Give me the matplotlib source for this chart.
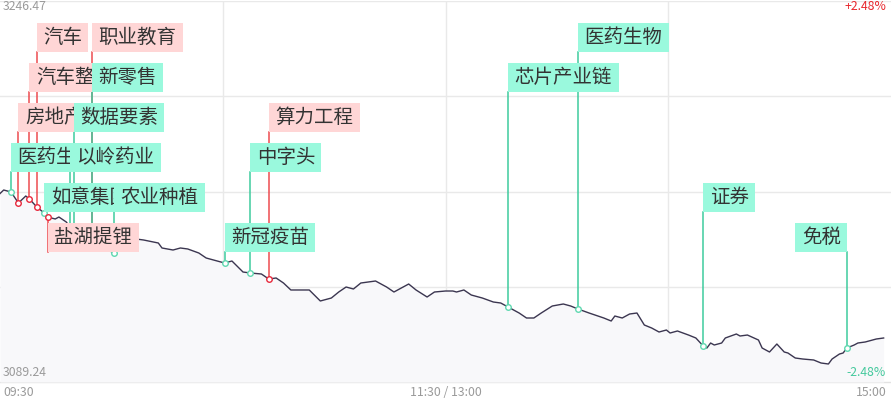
import matplotlib
matplotlib.use("Agg")
import matplotlib.pyplot as plt
from matplotlib.patches import Rectangle
import numpy as np

plt.rcParams['font.family'] = ['Noto Sans CJK SC', 'DejaVu Sans']

# Données (minute de séance, niveau de l'indice)
minutes = [0, 1, 3, 5, 7, 8, 10, 12, 13, 15, 16, 18, 19, 20, 22, 25, 27, 31, 34, 37,
           39, 43, 44, 47, 49, 51, 54, 56, 59, 61, 63, 66, 68, 71, 73, 75, 77, 79, 84, 87,
           90, 92, 94, 96, 98, 102, 105, 107, 111, 113, 116, 118, 121, 123, 124, 126, 128,
           131, 134, 136, 138, 141, 143, 145, 147, 150, 153, 155, 157, 160, 164, 166, 167,
           169, 171, 173, 175, 177, 179, 181, 182, 184, 187, 189, 191, 192, 193, 194, 196,
           197, 200, 201, 203, 206, 207, 209, 211, 213, 214, 216, 218, 221, 223, 225, 226,
           228, 229, 230, 232, 233, 235, 237, 238, 240]
prix = [3167.00, 3168.47, 3167.65, 3163.11, 3166.00, 3164.76, 3161.46, 3158.98, 3157.33,
        3156.51, 3157.33, 3155.27, 3153.21, 3151.97, 3150.32, 3147.84, 3145.36, 3142.47,
        3145.78, 3148.25, 3147.84, 3146.60, 3144.54, 3143.71, 3144.54, 3144.13, 3142.47,
        3140.41, 3139.17, 3138.35, 3139.17, 3134.63, 3134.22, 3133.81, 3131.74, 3132.16,
        3130.09, 3127.21, 3127.21, 3122.67, 3123.90, 3126.38, 3128.44, 3127.62, 3130.09,
        3130.92, 3128.44, 3126.38, 3129.68, 3127.21, 3124.32, 3126.38, 3126.79, 3126.79,
        3126.38, 3127.21, 3125.14, 3123.90, 3122.25, 3121.84, 3120.19, 3117.71, 3115.65,
        3115.65, 3117.71, 3120.60, 3121.43, 3120.60, 3119.36, 3117.71, 3115.65, 3114.41,
        3116.47, 3115.65, 3117.30, 3117.71, 3112.76, 3111.52, 3109.87, 3110.70, 3109.46,
        3110.29, 3108.63, 3107.40, 3104.10, 3103.27, 3105.33, 3104.51, 3105.33, 3107.40,
        3109.05, 3108.22, 3108.63, 3106.57, 3103.27, 3101.62, 3104.92, 3101.62, 3101.21,
        3099.14, 3098.73, 3098.32, 3097.08, 3096.67, 3098.73, 3100.79, 3101.21, 3103.27,
        3104.51, 3105.33, 3105.75, 3106.57, 3106.98, 3107.40]

y_max = 3246.47
y_min = 3089.24

# Étiquettes des thèmes : texte, minute, niveau (0 = en haut), couleur, côté
themes = ["汽车", "职业教育", "汽车整车", "新零售", "房地产", "数据要素", "医药生物", "以岭药业",
          "如意集团", "农业种植", "盐湖提锂", "新冠疫苗", "中字头", "算力工程", "芯片产业链",
          "医药生物", "证券", "免税"]
theme_min = [10, 25, 8, 25, 5, 20, 3, 19, 12, 31, 13, 61, 68, 73, 138, 157, 191, 230]
theme_niv = [0, 0, 1, 1, 2, 2, 3, 3, 4, 4, 5, 5, 3, 2, 1, 0, 4, 5]
theme_hausse = [True, True, True, False, True, False, False, False, False, False, True,
                False, False, True, False, False, False, False]
theme_gauche = [False] * 17 + [True]

W, H = 891, 405
x_max = 242

fig = plt.figure(figsize=(W / 100, H / 100), dpi=100)
ax = fig.add_axes([0, (H - 382) / H, 1, 381 / H])
ax.set_xlim(0, x_max)
ax.set_ylim(y_min, y_max)
ax.axis("off")


def px_x(p):
    return p * x_max / W


def px_y(p):
    return y_max - (p - 1) / 381 * (y_max - y_min)


# grille
for v in np.linspace(y_min, y_max, 5)[1:]:
    ax.axhline(v, color="#E9E9E9", lw=1, zorder=0)
ax.axhline(y_min, color="#E2E2E2", lw=1, zorder=0, clip_on=False)
for v in [x_max / 4, x_max / 2, x_max * 3 / 4]:
    ax.axvline(v, color="#E9E9E9", lw=1, zorder=0)

# courbe
ax.fill_between(minutes, prix, y_min, color="#F8F8FA", lw=0, zorder=1)
ax.plot(minutes, prix, color="#3B3650", lw=1.0, zorder=2)

prix_par_min = dict(zip(minutes, prix))

# traits + marqueurs
for i in range(len(themes)):
    m = theme_min[i]
    p = prix_par_min[m]
    haut = 23 + 40 * theme_niv[i] + 29
    c_line = "#EE4B50" if theme_hausse[i] else "#3ECB9E"
    c_mark = "#E8283C" if theme_hausse[i] else "#5FD8B0"
    ax.plot([m, m], [p, px_y(haut)], color=c_line, lw=1.1, zorder=3)
    ax.plot(m, p, "o", ms=4, mfc="white", mec=c_mark, mew=1.0, zorder=4)

# boîtes des étiquettes
for i in range(len(themes)):
    m = theme_min[i]
    n = len(themes[i])
    w = 19.7 * n + 12
    top = 23 + 40 * theme_niv[i]
    x0 = m - px_x(w) if theme_gauche[i] else m
    fc = "#FFD6D6" if theme_hausse[i] else "#9AF9DD"
    rect = Rectangle((x0, px_y(top + 29)), px_x(w), px_y(top) - px_y(top + 29),
                     facecolor=fc, edgecolor="none", zorder=5 + i * 0.01)
    ax.add_patch(rect)
    ax.text(x0 + px_x(6.5), px_y(top + 14.5), themes[i], fontsize=14, color="#333333",
            va="center", ha="left", zorder=5 + i * 0.01 + 0.005)

# textes des axes
gris = "#9A9A9A"
fig.text(3 / W, 1 - 7 / H, "3246.47", fontsize=8.8, color=gris, va="center", ha="left")
fig.text(3 / W, 1 - 372 / H, "3089.24", fontsize=8.8, color=gris, va="center", ha="left")
fig.text(886 / W, 1 - 7 / H, "+2.48%", fontsize=8.8, color="#E8262C", va="center", ha="right")
fig.text(886 / W, 1 - 372 / H, "-2.48%", fontsize=8.8, color="#45C99D", va="center", ha="right")
fig.text(3 / W, 1 - 392 / H, "09:30", fontsize=8.8, color=gris, va="center", ha="left")
fig.text(446 / W, 1 - 392 / H, "11:30 / 13:00", fontsize=8.8, color=gris, va="center", ha="center")
fig.text(887 / W, 1 - 392 / H, "15:00", fontsize=8.8, color=gris, va="center", ha="right")

fig.savefig("out.png", dpi=100, facecolor="white")
